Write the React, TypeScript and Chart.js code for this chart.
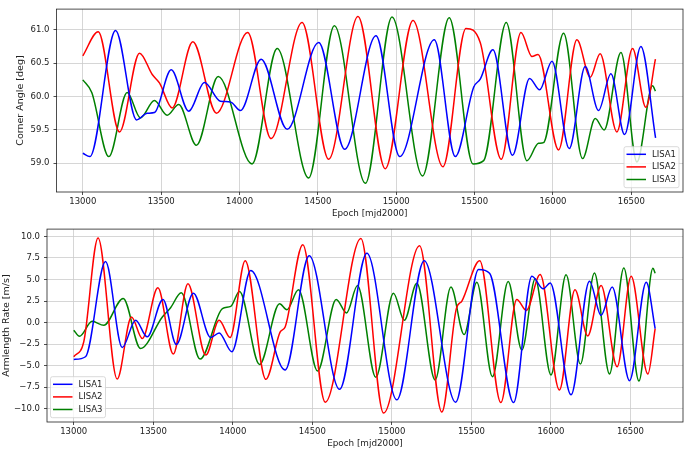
import React, { useEffect, useRef } from 'react';
import { Chart, registerables } from 'chart.js';

Chart.register(...registerables);

const FONT = "'DejaVu Sans', sans-serif";

const xTicks = [13000, 13500, 14000, 14500, 15000, 15500, 16000, 16500];
const angleTicks = [59.0, 59.5, 60.0, 60.5, 61.0];
const rateTicks = [-10, -7.5, -5, -2.5, 0, 2.5, 5, 7.5, 10];
const seriesNames = ['LISA1', 'LISA2', 'LISA3'];
const seriesColors = ['#0000ff', '#ff0000', '#008000'];

// Corner angle [deg] (epoch, value)
const angleLisa1: [number, number][] = [
  [13000, 59.15], [13045, 59.10], [13209, 60.99], [13343, 59.65], [13411, 59.75], [13457, 59.76],
  [13564, 60.40], [13676, 59.78], [13776, 60.21], [13878, 59.93], [13942, 59.92], [14006, 59.79],
  [14138, 60.56], [14304, 59.51], [14505, 60.81], [14671, 59.21], [14871, 60.91], [15022, 59.10],
  [15243, 60.85], [15377, 59.10], [15494, 60.14], [15536, 60.26], [15617, 60.70], [15742, 59.12],
  [15851, 60.27], [15915, 60.10], [15994, 60.53], [16104, 59.22], [16206, 60.45], [16291, 59.79],
  [16370, 60.34], [16457, 59.43], [16561, 60.75], [16655, 59.38],
];
const angleLisa2: [number, number][] = [
  [13000, 60.61], [13098, 60.97], [13234, 59.47], [13362, 60.65], [13443, 60.33], [13490, 60.20],
  [13570, 59.83], [13702, 60.82], [13853, 59.75], [14052, 60.96], [14201, 59.37], [14399, 61.11],
  [14569, 59.06], [14756, 61.20], [14930, 58.92], [15107, 61.14], [15298, 58.95], [15445, 61.02],
  [15536, 60.81], [15670, 59.06], [15796, 60.96], [15866, 60.60], [15905, 60.63], [16036, 59.20],
  [16153, 60.85], [16238, 60.29], [16301, 60.64], [16408, 59.47], [16508, 60.72], [16593, 59.84],
  [16654, 60.56],
];
const angleLisa3: [number, number][] = [
  [13000, 60.25], [13057, 60.06], [13166, 59.10], [13283, 60.06], [13368, 59.68], [13457, 59.94],
  [13538, 59.72], [13612, 59.88], [13725, 59.27], [13864, 60.30], [14080, 58.99], [14240, 60.72],
  [14441, 58.78], [14605, 61.06], [14803, 58.70], [14973, 61.19], [15168, 58.81], [15338, 61.18],
  [15490, 58.99], [15558, 59.04], [15702, 61.11], [15834, 59.04], [15908, 59.30], [15940, 59.31],
  [16068, 60.95], [16189, 59.07], [16270, 59.67], [16327, 59.50], [16434, 60.66], [16536, 59.02],
  [16636, 60.16], [16654, 60.08],
];

// Armlength rate [m/s] (epoch, value)
const rateLisa1: [number, number][] = [
  [13000, -4.27], [13074, -3.96], [13200, 7.08], [13305, -2.88], [13389, 0.27], [13462, -1.65],
  [13561, 2.69], [13645, -2.54], [13752, 3.42], [13861, -1.73], [13914, -1.19], [13994, -3.38],
  [14113, 6.04], [14329, -5.5], [14480, 7.77], [14671, -7.73], [14843, 8.04], [15031, -8.96],
  [15203, 7.19], [15401, -9.23], [15545, 6.15], [15614, 5.73], [15765, -9.27], [15880, 5.38],
  [15952, 3.92], [15995, 4.6], [16126, -8.38], [16242, 4.81], [16315, 0.85], [16385, 4.12],
  [16494, -6.73], [16599, 4.69], [16655, -0.69],
];
const rateLisa2: [number, number][] = [
  [13000, -3.96], [13063, -2.23], [13153, 9.81], [13273, -6.54], [13363, 0.65], [13431, -1.85],
  [13529, 4.04], [13626, -3.65], [13718, 4.5], [13830, -3.77], [13914, 0.27], [13983, -1.73],
  [14078, 7.19], [14208, -6.58], [14298, -1.08], [14329, -0.5], [14440, 9.04], [14581, -9.23],
  [14805, 9.77], [14948, -10.5], [15174, 8.92], [15314, -10.38], [15405, 1.6], [15440, 2.5],
  [15552, 7.19], [15685, -9.27], [15785, 2.69], [15845, 1.42], [15932, 5.58], [16053, -7.81],
  [16151, 3.81], [16231, -1.54], [16315, 4.31], [16416, -5.12], [16504, 5.38], [16609, -5.96],
  [16655, -0.69],
];
const rateLisa3: [number, number][] = [
  [13000, -0.88], [13036, -1.58], [13116, 0.15], [13189, -0.31], [13311, 2.8], [13420, -3.0],
  [13557, 0.65], [13609, 1.73], [13676, 3.46], [13794, -4.23], [13935, 1.62], [13987, 1.88],
  [14042, 3.62], [14168, -4.85], [14294, 2.19], [14340, 1.5], [14413, 3.81], [14533, -5.62],
  [14650, 2.69], [14715, 1.12], [14784, 4.31], [14899, -6.35], [15010, 3.42], [15078, 0.27],
  [15157, 4.58], [15272, -6.65], [15371, 4.12], [15454, -1.38], [15534, 4.69], [15632, -6.27],
  [15731, 4.77], [15817, -3.19], [15901, 5.08], [16000, -6.08], [16095, 5.54], [16185, -4.81],
  [16273, 5.77], [16368, -5.96], [16458, 6.35], [16553, -6.77], [16641, 6.31], [16655, 5.73],
];

const angleSeries = [angleLisa1, angleLisa2, angleLisa3];
const rateSeries = [rateLisa1, rateLisa2, rateLisa3];

const frameAndLegend = {
  id: 'frameAndLegend',
  afterDraw(chart: any, _args: any, opts: any) {
    const { ctx, chartArea } = chart;
    ctx.save();
    ctx.strokeStyle = '#222';
    ctx.lineWidth = 0.8;
    ctx.strokeRect(chartArea.left, chartArea.top, chartArea.right - chartArea.left, chartArea.bottom - chartArea.top);

    const w = 55;
    const h = 41;
    const rowH = 12.6;
    const x0 = opts.corner === 'right' ? chartArea.right - 4 - w : chartArea.left + 3.5;
    const y0 = chartArea.bottom - 4.3 - h;
    const r = 2;
    ctx.beginPath();
    ctx.moveTo(x0 + r, y0);
    ctx.lineTo(x0 + w - r, y0);
    ctx.arcTo(x0 + w, y0, x0 + w, y0 + r, r);
    ctx.lineTo(x0 + w, y0 + h - r);
    ctx.arcTo(x0 + w, y0 + h, x0 + w - r, y0 + h, r);
    ctx.lineTo(x0 + r, y0 + h);
    ctx.arcTo(x0, y0 + h, x0, y0 + h - r, r);
    ctx.lineTo(x0, y0 + r);
    ctx.arcTo(x0, y0, x0 + r, y0, r);
    ctx.closePath();
    ctx.fillStyle = 'rgba(255,255,255,0.8)';
    ctx.fill();
    ctx.strokeStyle = '#d0d0d0';
    ctx.lineWidth = 0.8;
    ctx.stroke();

    ctx.font = `8.5px ${FONT}`;
    ctx.textBaseline = 'middle';
    ctx.textAlign = 'left';
    chart.data.datasets.forEach((ds: any, i: number) => {
      const cy = y0 + 7.6 + i * rowH;
      ctx.beginPath();
      ctx.moveTo(x0 + 2.5, cy);
      ctx.lineTo(x0 + 22, cy);
      ctx.strokeStyle = ds.borderColor;
      ctx.lineWidth = 1.5;
      ctx.stroke();
      ctx.fillStyle = '#222';
      ctx.fillText(ds.label, x0 + 28, cy);
    });
    ctx.restore();
  },
};

function fmtNum(v: number, digits: number) {
  const s = Math.abs(v).toFixed(digits);
  return v < 0 ? '\u2212' + s : s;
}

function makeConfig(cfg: any) {
  return {
    type: 'line',
    data: {
      datasets: cfg.series.map((pts: [number, number][], i: number) => ({
        label: seriesNames[i],
        data: pts.map(([x, y]) => ({ x, y })),
        borderColor: seriesColors[i],
        backgroundColor: seriesColors[i],
        borderWidth: 1.5,
        pointRadius: 0,
        fill: false,
        cubicInterpolationMode: 'monotone',
      })),
    },
    options: {
      responsive: false,
      animation: false,
      devicePixelRatio: 1,
      events: [],
      layout: { padding: { left: 0, right: 2, top: cfg.padTop, bottom: 0 } },
      plugins: {
        legend: { display: false },
        tooltip: { enabled: false },
        frameAndLegend: { corner: cfg.corner },
      },
      scales: {
        x: {
          type: 'linear',
          min: 12832,
          max: 16830,
          afterBuildTicks: (s: any) => {
            s.ticks = xTicks.map((v) => ({ value: v }));
          },
          afterFit: (s: any) => {
            s.height = 28;
          },
          ticks: {
            callback: (v: any) => String(v),
            font: { family: FONT, size: 8.5 },
            color: '#222',
            padding: 2,
            maxRotation: 0,
            autoSkip: false,
          },
          grid: { color: '#cccccc', lineWidth: 0.8, tickLength: 3, tickColor: '#222', tickWidth: 0.8 },
          border: { display: false },
          title: {
            display: true,
            text: 'Epoch [mjd2000]',
            font: { family: FONT, size: 8.8 },
            color: '#222',
            padding: { top: 0, bottom: 1 },
          },
        },
        y: {
          type: 'linear',
          min: cfg.yMin,
          max: cfg.yMax,
          afterBuildTicks: (s: any) => {
            s.ticks = cfg.yTicks.map((v: number) => ({ value: v }));
          },
          afterFit: (s: any) => {
            s.width = cfg.yWidth;
          },
          ticks: {
            callback: (v: any) => fmtNum(Number(v), 1),
            font: { family: FONT, size: 8.5 },
            color: '#222',
            padding: 4,
            autoSkip: false,
          },
          grid: { color: '#cccccc', lineWidth: 0.8, tickLength: 3, tickColor: '#222', tickWidth: 0.8 },
          border: { display: false },
          title: {
            display: true,
            text: cfg.yTitle,
            font: { family: FONT, size: 9.5 },
            color: '#222',
            padding: { top: cfg.yTitlePad, bottom: 0 },
          },
        },
      },
    },
    plugins: [frameAndLegend],
  };
}

function ChartPanel(props: { cfg: any; top: number; height: number }) {
  const ref = useRef<HTMLCanvasElement | null>(null);
  useEffect(() => {
    if (!ref.current) return;
    const chart = new Chart(ref.current, makeConfig(props.cfg) as any);
    return () => chart.destroy();
  }, []);
  return (
    <canvas
      ref={ref}
      width={685}
      height={props.height}
      style={{ position: 'absolute', left: 0, top: props.top, width: 685, height: props.height }}
    />
  );
}

const topCfg = {
  series: angleSeries,
  yTicks: angleTicks,
  yMin: 58.57,
  yMax: 61.31,
  yWidth: 56.5,
  yTitle: 'Corner Angle [deg]',
  yTitlePad: 15,
  padTop: 2,
  corner: 'right',
};

const bottomCfg = {
  series: rateSeries,
  yTicks: rateTicks,
  yMin: -11.53,
  yMax: 10.85,
  yWidth: 47,
  yTitle: 'Armlength Rate [m/s]',
  yTitlePad: 0.5,
  padTop: 8.3,
  corner: 'left',
};

export default function App() {
  return (
    <div style={{ position: 'absolute', left: 0, top: 0, width: 685, height: 450, background: '#fff' }}>
      <ChartPanel cfg={topCfg} top={0} height={220} />
      <ChartPanel cfg={bottomCfg} top={220} height={230} />
    </div>
  );
}
